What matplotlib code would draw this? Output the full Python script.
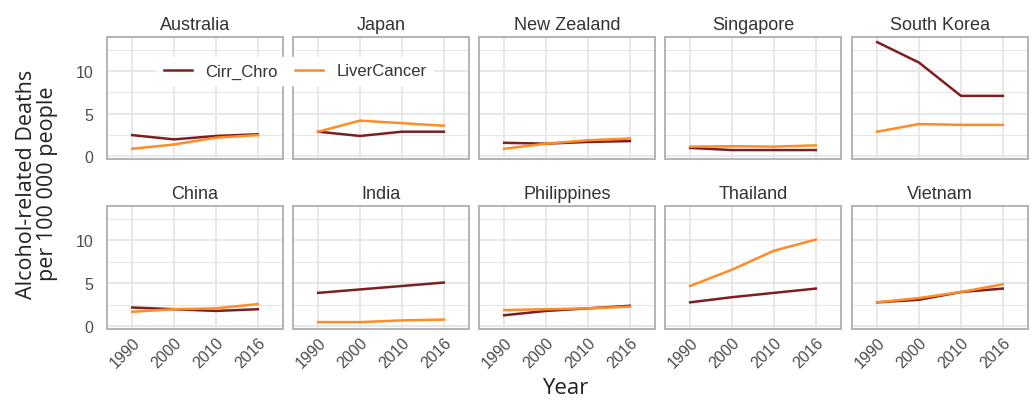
import matplotlib
matplotlib.use("Agg")
import matplotlib.pyplot as plt
from matplotlib.ticker import FixedLocator

# Data (deaths per 100 000 people)
YEARS = ["1990", "2000", "2010", "2016"]
COUNTRIES = ["Australia", "Japan", "New Zealand", "Singapore", "South Korea",
             "China", "India", "Philippines", "Thailand", "Vietnam"]

cirr_chro = {
    "Australia":   [2.5, 2.0, 2.4, 2.6],
    "Japan":       [2.9, 2.4, 2.9, 2.9],
    "New Zealand": [1.6, 1.5, 1.7, 1.8],
    "Singapore":   [1.0, 0.75, 0.75, 0.75],
    "South Korea": [13.4, 11.0, 7.1, 7.1],
    "China":       [2.2, 2.0, 1.8, 2.0],
    "India":       [3.9, 4.3, 4.7, 5.1],
    "Philippines": [1.3, 1.8, 2.1, 2.4],
    "Thailand":    [2.8, 3.4, 3.9, 4.4],
    "Vietnam":     [2.8, 3.1, 4.0, 4.4],
}
liver_cancer = {
    "Australia":   [0.9, 1.4, 2.2, 2.5],
    "Japan":       [2.9, 4.2, 3.9, 3.6],
    "New Zealand": [0.9, 1.5, 1.9, 2.1],
    "Singapore":   [1.15, 1.2, 1.15, 1.3],
    "South Korea": [2.9, 3.8, 3.7, 3.7],
    "China":       [1.7, 2.0, 2.1, 2.6],
    "India":       [0.5, 0.5, 0.7, 0.8],
    "Philippines": [1.9, 2.0, 2.1, 2.3],
    "Thailand":    [4.7, 6.6, 8.8, 10.1],
    "Vietnam":     [2.8, 3.3, 4.0, 4.9],
}

C_CIRR = "#7d1f22"
C_LIVER = "#ff8c26"
GRID = "#e6e6e6"
BORDER = "#b3b3b3"
TXT = "#4d4d4d"

W, H = 1034, 406
fig = plt.figure(figsize=(W / 100, H / 100), dpi=100)

lefts = [107, 293, 479, 665, 852]
pw = 176
rows = [(38, 160), (207, 330)]
xs = list(range(len(YEARS)))

lines = []
for i, country in enumerate(COUNTRIES):
    r, c = divmod(i, 5)
    top, bot = rows[r]
    ax = fig.add_axes([lefts[c] / W, 1 - bot / H, pw / W, (bot - top) / H])
    ax.set_xlim(-0.6, len(YEARS) - 0.4)
    ax.set_ylim(-0.3, 14.0)
    ax.set_xticks(xs)
    ax.yaxis.set_major_locator(FixedLocator([0, 5, 10]))
    ax.yaxis.set_minor_locator(FixedLocator([2.5, 7.5, 12.5]))
    ax.grid(True, which="major", color=GRID, lw=1.3)
    ax.grid(True, which="minor", axis="y", color=GRID, lw=0.7)
    ax.set_axisbelow(True)
    for s in ax.spines.values():
        s.set_color(BORDER)
        s.set_linewidth(1.4)
    ax.tick_params(axis="x", length=0, colors=TXT, labelsize=11.5, pad=4)
    ax.tick_params(axis="y", length=0, colors=TXT, labelsize=11.5, pad=10)
    ax.tick_params(which="minor", length=0)
    if r == 1:
        ax.set_xticklabels(YEARS, rotation=45, ha="right", rotation_mode="anchor",
                           family="Liberation Sans", color=TXT)
    else:
        ax.set_xticklabels([])
    if c == 0:
        ax.set_yticklabels(["0", "5", "10"], family="Liberation Sans")
    else:
        ax.set_yticklabels([])
    l1, = ax.plot(xs, cirr_chro[country], color=C_CIRR, lw=1.8, label="Cirr_Chro")
    l2, = ax.plot(xs, liver_cancer[country], color=C_LIVER, lw=1.8, label="LiverCancer")
    lines = [l1, l2]
    ax.set_title(country, fontsize=13, color="#333333", family="Liberation Sans", pad=6)

fig.text(37 / W, 1 - 184 / H, "Alcohol-related Deaths\nper 100 000 people",
         rotation=90, ha="center", va="center", fontsize=15.5, family="Open Sans",
         color="#222222", linespacing=1.05)
fig.text(565 / W, 1 - 389 / H, "Year", ha="center", va="center", fontsize=16,
         family="Open Sans", color="#222222")

leg = fig.legend(lines, ["Cirr_Chro", "LiverCancer"], ncol=2,
                 loc="center", bbox_to_anchor=(295 / W, 1 - 72 / H),
                 frameon=True, fancybox=False, framealpha=1, edgecolor="white",
                 handlelength=1.7, columnspacing=1.0, handletextpad=0.8,
                 prop={"family": "Liberation Sans", "size": 12})
for t in leg.get_texts():
    t.set_color("#333333")

fig.savefig("out.png", dpi=100)
